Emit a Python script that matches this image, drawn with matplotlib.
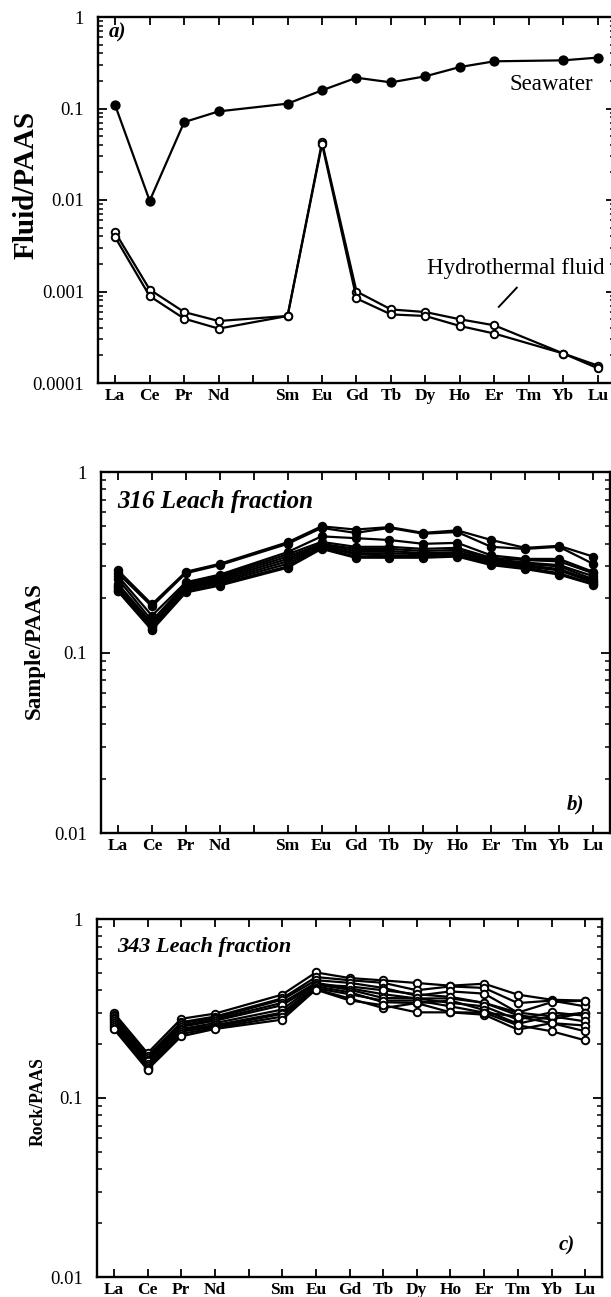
import matplotlib
matplotlib.use("Agg")
import matplotlib.pyplot as plt
import numpy as np
from matplotlib.ticker import FixedLocator, LogLocator, NullFormatter

plt.rcParams["font.family"] = ["Liberation Serif", "DejaVu Serif"]

# REE order, Pm (index 4) has a tick but no label and no data
ELEMENTS = ["La", "Ce", "Pr", "Nd", "", "Sm", "Eu", "Gd", "Tb", "Dy", "Ho", "Er", "Tm", "Yb", "Lu"]
REE = ["La", "Ce", "Pr", "Nd", "Sm", "Eu", "Gd", "Tb", "Dy", "Ho", "Er", "Tm", "Yb", "Lu"]
NAN = np.nan

# panel a: fluids normalised to PAAS (no Tm data)
seawater = [0.108, 0.0098, 0.071, 0.093, 0.113, 0.158, 0.217, 0.193, 0.225, 0.284, 0.328, NAN, 0.336, 0.360]
hydro_1 = [0.00442, 0.00105, 0.000596, 0.000476, 0.00054, 0.043, 0.00100, 0.000637, 0.000596,
           0.000497, 0.000427, NAN, 0.00021, 0.000155]
hydro_2 = [0.0039, 0.00089, 0.000505, 0.000393, 0.00054, 0.0408, 0.00084, 0.000562, 0.00054,
           0.00042, 0.000347, NAN, 0.00021, 0.000145]

# panel b: 316 leach fraction
leach_316 = [
    [0.285, 0.185, 0.280, 0.310, 0.408, 0.500, 0.480, 0.495, 0.460, 0.475, 0.420, 0.380, 0.390, 0.340],
    [0.275, 0.180, 0.275, 0.305, 0.400, 0.490, 0.460, 0.490, 0.455, 0.465, 0.385, 0.375, 0.385, 0.310],
    [0.265, 0.160, 0.245, 0.270, 0.360, 0.440, 0.430, 0.420, 0.400, 0.405, 0.345, 0.330, 0.330, 0.280],
    [0.255, 0.150, 0.240, 0.265, 0.350, 0.410, 0.385, 0.385, 0.375, 0.380, 0.335, 0.325, 0.320, 0.275],
    [0.240, 0.145, 0.235, 0.260, 0.340, 0.400, 0.375, 0.375, 0.365, 0.370, 0.330, 0.315, 0.305, 0.265],
    [0.235, 0.142, 0.230, 0.255, 0.330, 0.395, 0.365, 0.365, 0.355, 0.360, 0.325, 0.310, 0.300, 0.255],
    [0.230, 0.140, 0.228, 0.250, 0.320, 0.390, 0.355, 0.355, 0.350, 0.355, 0.320, 0.305, 0.290, 0.250],
    [0.225, 0.138, 0.225, 0.245, 0.310, 0.385, 0.350, 0.345, 0.345, 0.350, 0.315, 0.300, 0.285, 0.245],
    [0.220, 0.135, 0.220, 0.240, 0.300, 0.380, 0.340, 0.340, 0.340, 0.345, 0.310, 0.295, 0.275, 0.240],
    [0.218, 0.133, 0.215, 0.235, 0.295, 0.375, 0.335, 0.335, 0.335, 0.340, 0.305, 0.290, 0.270, 0.238],
]

# panel c: 343 leach fraction
leach_343 = [
    [0.299, 0.178, 0.277, 0.296, 0.378, 0.503, 0.468, 0.454, 0.439, 0.424, 0.435, 0.378, 0.354, 0.350],
    [0.290, 0.172, 0.265, 0.285, 0.360, 0.474, 0.455, 0.440, 0.400, 0.420, 0.412, 0.339, 0.350, 0.325],
    [0.286, 0.167, 0.262, 0.280, 0.354, 0.455, 0.440, 0.412, 0.373, 0.394, 0.383, 0.300, 0.343, 0.350],
    [0.280, 0.162, 0.255, 0.275, 0.340, 0.440, 0.410, 0.380, 0.360, 0.360, 0.340, 0.290, 0.275, 0.300],
    [0.275, 0.160, 0.250, 0.270, 0.330, 0.430, 0.420, 0.400, 0.380, 0.367, 0.340, 0.300, 0.286, 0.300],
    [0.268, 0.155, 0.243, 0.262, 0.312, 0.430, 0.403, 0.362, 0.360, 0.340, 0.325, 0.274, 0.301, 0.288],
    [0.262, 0.150, 0.240, 0.255, 0.300, 0.420, 0.390, 0.343, 0.339, 0.350, 0.310, 0.260, 0.286, 0.268],
    [0.256, 0.148, 0.235, 0.250, 0.295, 0.410, 0.380, 0.350, 0.350, 0.325, 0.300, 0.285, 0.262, 0.254],
    [0.250, 0.146, 0.228, 0.246, 0.285, 0.405, 0.360, 0.318, 0.339, 0.301, 0.292, 0.241, 0.262, 0.236],
    [0.243, 0.144, 0.221, 0.243, 0.274, 0.403, 0.351, 0.330, 0.301, 0.301, 0.300, 0.255, 0.236, 0.210],
]

XPOS = {name: i for i, name in enumerate(ELEMENTS) if name}


def draw_series(ax, values, filled, ms=5.4):
    xs = np.array([XPOS[e] for e in REE], dtype=float)
    ys = np.array(values, dtype=float)
    keep = ~np.isnan(ys)
    ax.plot(xs[keep], ys[keep], color="black", lw=1.6, marker="o", ms=ms,
            mfc="black" if filled else "white", mec="black", mew=1.4, zorder=3)


def style_axes(ax, ymin, ymax):
    ax.set_yscale("log")
    ax.set_ylim(ymin, ymax)
    ax.set_xlim(-0.5, 14.5)
    ax.xaxis.set_major_locator(FixedLocator(range(len(ELEMENTS))))
    ax.set_xticklabels(ELEMENTS, fontsize=12.5, fontweight="bold")
    ax.yaxis.set_major_locator(LogLocator(base=10, numticks=10))
    ax.yaxis.set_minor_locator(LogLocator(base=10, subs=np.arange(2, 10), numticks=10))
    ax.yaxis.set_minor_formatter(NullFormatter())
    ax.yaxis.set_major_formatter(plt.FuncFormatter(lambda v, p: f"{v:g}" if v >= 0.001 else "0.0001"))
    ax.tick_params(axis="x", which="major", direction="in", top=True, bottom=True,
                   length=5.5, width=1.3, pad=3.5)
    ax.tick_params(axis="y", which="major", direction="in", left=True, right=True,
                   length=6.5, width=1.3, pad=10, labelsize=13.5)
    ax.tick_params(axis="y", which="minor", direction="in", left=True, right=True,
                   length=3.5, width=1.1)
    for side in ax.spines.values():
        side.set_linewidth(1.7)


W, H = 611, 1297
fig = plt.figure(figsize=(W / 100, H / 100), dpi=100)


def add_axes(left, right, top, bottom):
    return fig.add_axes([left / W, 1 - bottom / H, (right - left) / W, (bottom - top) / H])


# panel a
ax_a = add_axes(98, 615, 17, 383)
style_axes(ax_a, 1e-4, 1)
draw_series(ax_a, seawater, filled=True, ms=6)
draw_series(ax_a, hydro_1, filled=False)
draw_series(ax_a, hydro_2, filled=False)
ax_a.text(0.021, 0.959, "a)", transform=ax_a.transAxes, fontsize=15, fontweight="bold",
          fontstyle="italic", ha="left", va="center")
ax_a.text(12.65, 0.181, "Seawater", fontsize=16.5, ha="center", va="center")
ax_a.text(11.63, 0.00177, "Hydrothermal fluid", fontsize=16.5, ha="center", va="center")
ax_a.plot([11.13, 11.65], [0.00068, 0.0011], color="black", lw=1.4)
fig.text(26 / W, 1 - 185 / H, "Fluid/PAAS", rotation=90, fontsize=21, fontweight="bold",
         ha="center", va="center")

# panel b
ax_b = add_axes(101, 610, 472, 833)
style_axes(ax_b, 0.01, 1)
for row in leach_316:
    draw_series(ax_b, row, filled=True)
ax_b.text(0.031, 0.917, "316 Leach fraction", transform=ax_b.transAxes, fontsize=18,
          fontweight="bold", fontstyle="italic", ha="left", va="center")
ax_b.text(0.933, 0.078, "b)", transform=ax_b.transAxes, fontsize=15, fontweight="bold",
          fontstyle="italic", ha="center", va="center")
fig.text(34 / W, 1 - 651 / H, "Sample/PAAS", rotation=90, fontsize=16.5, fontweight="bold",
         ha="center", va="center")

# panel c
ax_c = add_axes(97, 602, 919, 1277)
style_axes(ax_c, 0.01, 1)
for row in leach_343:
    draw_series(ax_c, row, filled=False)
ax_c.text(0.040, 0.922, "343 Leach fraction", transform=ax_c.transAxes, fontsize=16,
          fontweight="bold", fontstyle="italic", ha="left", va="center")
ax_c.text(0.931, 0.089, "c)", transform=ax_c.transAxes, fontsize=15, fontweight="bold",
          fontstyle="italic", ha="center", va="center")
fig.text(38 / W, 1 - 1102 / H, "Rock/PAAS", rotation=90, fontsize=12.7, fontweight="bold",
         ha="center", va="center")

fig.savefig("out.png", dpi=100)
